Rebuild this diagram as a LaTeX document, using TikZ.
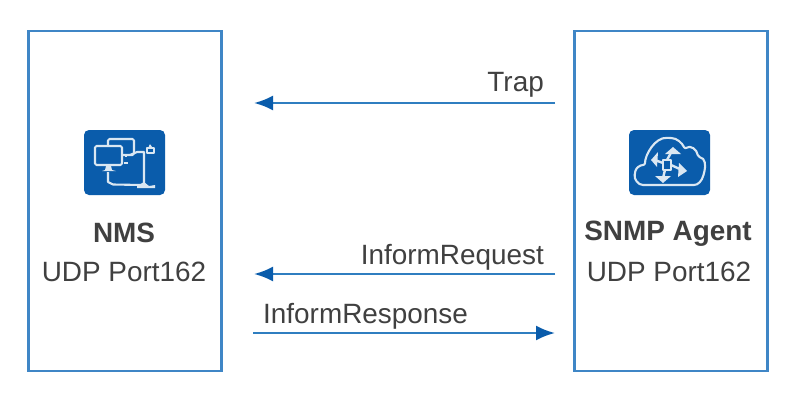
\documentclass[tikz,border=0pt]{standalone}
\usepackage{fontspec}
\setmainfont{Liberation Sans}
\usetikzlibrary{arrows.meta}
\definecolor{hwblue}{HTML}{0A5CAB}
\definecolor{boxblue}{HTML}{3F86C6}
\definecolor{linkblue}{HTML}{2F7EC0}
\definecolor{txt}{HTML}{404040}
\tikzset{
  panel/.style={draw=boxblue,line width=2.2pt,fill=white,minimum width=193pt,minimum height=340pt,inner sep=0pt},
  iconbg/.style={fill=hwblue,rounded corners=5pt,minimum width=81pt,minimum height=65pt,inner sep=0pt},
  lbl/.style={font=\fontsize{27.9}{30}\selectfont,text=txt,inner sep=0pt,anchor=base},
  msg/.style={draw=linkblue,line width=2.4pt,-{Latex[length=19pt,width=15pt,color=hwblue]},shorten >=0pt},
  glyph/.style={draw=white!85!hwblue,line width=2.1pt,line join=round},
  glyphfill/.style={fill=white!85!hwblue,draw=none}
}
\begin{document}
\begin{tikzpicture}[x=1pt,y=-1pt]
\useasboundingbox[fill=white] (0,0) rectangle (798,402);
\node[panel] (nms) at (125,201) {};
\node[panel] (agent) at (671,201) {};
\node[iconbg] (nmsicon) at (124.5,162.5) {};
\node[iconbg] (agenticon) at (669.5,162.5) {};
% NMS icon
\draw[glyph,fill=hwblue,rounded corners=1.5pt] (108,139) rectangle (134,155);
\draw[glyph,fill=hwblue,rounded corners=1.5pt] (95,146) rectangle (122,165);
\path[glyphfill] (106,166) -- (111,166) -- (112,170) -- (116,171) -- (102,171) -- (105,170) -- cycle;
\draw[glyph] (108,172) -- (108,182) -- (113,184.5) -- (142,185);
\draw[glyph] (126,155) -- (126,157) (124,163) -- (128,163);
\draw[glyph] (130,155) -- (137,152) -- (144,152) -- (144,185);
\path[glyphfill] (137,186) -- (144,182) -- (149,186) -- (155,185) -- (155,188) -- (137,188) -- cycle;
\draw[glyph,line width=1.6pt] (147,148) rectangle (154,153);
\draw[glyph,line width=1.2pt] (149,148) -- (150,145) -- (152,148);
% Agent icon
\draw[glyph,rounded corners=2pt] (645,185)
  .. controls (638,185) and (634,179) .. (635,173)
  .. controls (636,168) and (640,165) .. (645,165)
  .. controls (645,155) and (655,137) .. (669,138)
  .. controls (677,138) and (682,143) .. (685,149)
  .. controls (690,145) and (697,149) .. (698,157)
  .. controls (705,158) and (706,165) .. (704,173)
  .. controls (702,181) and (698,185) .. (692,185) -- cycle;
\draw[glyph,line width=2.4pt] (663,160) rectangle (671,170);
\draw[glyph,line width=2.4pt] (667,160) -- (673,149);
\draw[glyph,line width=2.4pt] (663,163) -- (655,160);
\draw[glyph,line width=2.4pt] (671,165) -- (682,170);
\draw[glyph,line width=2.4pt] (665,170) -- (663,178);
\path[glyphfill] (673,147) -- (665,154) -- (681,154) -- cycle;
\path[glyphfill] (651,160) -- (658,152) -- (657,167) -- cycle;
\path[glyphfill] (687,171) -- (679,163) -- (678,177) -- cycle;
\path[glyphfill] (663,183) -- (655,176) -- (671,176) -- cycle;
% Labels
\node[lbl,font=\fontsize{27.9}{30}\selectfont\bfseries] (nmsname) at (124,242) {NMS};
\node[lbl] (nmsport) at (124,281) {UDP Port162};
\node[lbl,font=\fontsize{27.9}{30}\selectfont\bfseries] (agentname) at (668,240) {SNMP Agent};
\node[lbl] (agentport) at (669,281) {UDP Port162};
% Connector ends
\coordinate (trapR) at (555,103);
\coordinate (trapL) at (254,103);
\coordinate (reqR) at (555,274);
\coordinate (reqL) at (254,274);
\coordinate (respL) at (253,333);
\coordinate (respR) at (555,333);
\draw[msg] (trapR) -- (trapL);
\draw[msg] (reqR) -- (reqL);
\draw[msg] (respL) -- (respR);
\node[lbl,anchor=base east] (trap) at (544,91) {Trap};
\node[lbl,anchor=base east] (req) at (544,264) {InformRequest};
\node[lbl,anchor=base west] (resp) at (263,323.5) {InformResponse};
\end{tikzpicture}
\end{document}
